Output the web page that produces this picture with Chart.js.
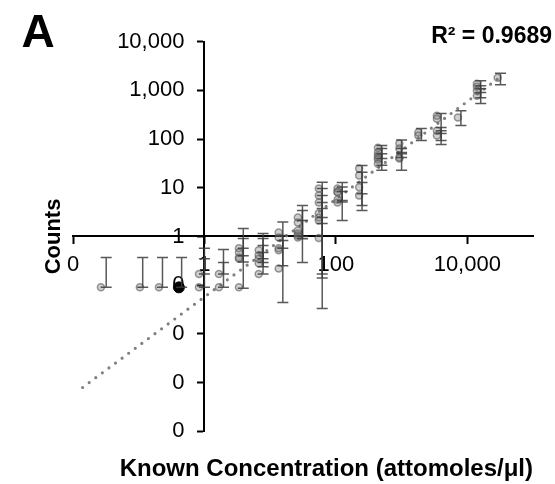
<!DOCTYPE html>
<html>
<head>
<meta charset="utf-8">
<script src="https://cdn.jsdelivr.net/npm/chart.js@4.4.0/dist/chart.umd.min.js"></script>
<style>
  html, body { margin: 0; padding: 0; background: #ffffff; }
  #wrap { width: 555px; height: 484px; position: relative; }
</style>
</head>
<body>
<div id="wrap"><canvas id="chart"></canvas></div>
<script>
// ---------------- DATA ----------------
// concentration at which each group's error bars sit (attomoles/µl)
const barConc = [0.032, 0.115, 0.23, 0.45, 1.0, 1.95, 3.9, 7.8, 15.6, 31, 62, 125, 250, 500, 1000, 2000, 4000, 8000, 16000, 32000];
// concentration at which each group's replicate markers sit
const pointConc = [0.0266, 0.104, 0.203, 0.409, 0.825, 1.66, 3.35, 6.7, 13.5, 26.4, 55, 106, 226, 437, 925, 1800, 3450, 7200, 14000, 29000];
// replicate counts per group
const replicateCounts = [
  [0.09],
  [0.09],
  [0.09],
  [],
  [0.17, 0.09],
  [0.17, 0.09],
  [0.57, 0.47, 0.37, 0.35, 0.09],
  [0.52, 0.41, 0.35, 0.28, 0.17],
  [1.21, 0.95, 0.57, 0.52, 0.22],
  [2.45, 1.94, 1.33, 1.15, 1.05, 0.95],
  [9.7, 6.9, 5.0, 3.0, 2.45, 2.13, 0.93],
  [9.7, 8.4, 8.0, 5.7, 5.0],
  [24.8, 17.8, 10.3, 6.9],
  [66, 53, 46, 42, 38, 31],
  [81, 64, 42, 40],
  [136, 118],
  [303, 263, 149, 118],
  [276],
  [1375, 1194, 988, 780],
  [1827]
];
// error bars per group: [low, high]
const errorBars = [
  [[0.09, 0.37]],
  [[0.09, 0.37]],
  [[0.09, 0.37]],
  [[0.09, 0.37]],
  [[0.09, 0.57], [0.17, 0.35]],
  [[0.09, 0.54], [0.17, 0.29]],
  [[0.086, 1.46], [0.3, 0.91], [0.4, 0.57]],
  [[0.17, 1.15], [0.24, 0.91], [0.29, 0.65], [0.35, 0.47]],
  [[0.044, 1.97], [0.25, 1.05], [0.57, 0.83]],
  [[0.29, 4.3], [0.9, 3.4], [1.0, 2.13]],
  [[0.033, 13], [0.14, 9.7], [0.17, 6.9], [1.85, 5.0], [2.45, 3.75]],
  [[2.13, 12.9], [5.1, 10.4], [5.5, 8.4]],
  [[3.4, 28.6], [4.3, 20.8], [7.5, 12.9]],
  [[23, 74], [29, 64], [40, 50]],
  [[23, 96], [42, 64], [50, 53]],
  [[93, 164]],
  [[77, 334], [93, 172], [130, 149]],
  [[189, 384]],
  [[535, 1585], [710, 1251], [900, 1086]],
  [[1312, 2239]]
];
// highlighted (solid black) marker
const highlightX = [0.409];
const highlightY = [0.09];
// power trend line end points
const trendX = [0.014, 30000];
const trendY = [0.00079, 1782];

// ticks
const xTickValues = [0.01, 1, 100, 10000];
const xTickLabels = ['0', '1', '100', '10,000'];
const yTickValues = [0.0001, 0.001, 0.01, 0.1, 1, 10, 100, 1000, 10000];
const yTickLabels = ['0', '0', '0', '0', '1', '10', '100', '1,000', '10,000'];

// texts
const panelLabel = 'A';
const r2Text = 'R² = 0.9689';
const xTitle = 'Known Concentration (attomoles/μl)';
const yTitle = 'Counts';

// ---------------- CHART ----------------
const FONT = "'Liberation Sans', Arial, Helvetica, sans-serif";
const Y_LABEL_GAP = 20; // gap between y axis line and right edge of its tick labels

const pointData = [];
replicateCounts.forEach((vals, i) => vals.forEach(v => pointData.push({ x: pointConc[i], y: v })));
const highlightData = highlightX.map((x, i) => ({ x, y: highlightY[i] }));
const trendData = trendX.map((x, i) => ({ x, y: trendY[i] }));

const errorBarPlugin = {
  id: 'errorBarPlugin',
  afterDatasetsDraw(chart) {
    const { ctx, scales: { x, y } } = chart;
    const cap = 5.5;
    ctx.save();
    ctx.strokeStyle = 'rgba(60,60,60,0.85)';
    ctx.lineWidth = 1.5;
    barConc.forEach((c, i) => {
      const px = x.getPixelForValue(c);
      errorBars[i].forEach(([lo, hi]) => {
        const yl = y.getPixelForValue(lo);
        const yh = y.getPixelForValue(hi);
        ctx.beginPath();
        ctx.moveTo(px, yl); ctx.lineTo(px, yh);
        ctx.moveTo(px - cap, yl); ctx.lineTo(px + cap, yl);
        ctx.moveTo(px - cap, yh); ctx.lineTo(px + cap, yh);
        ctx.stroke();
      });
    });
    ctx.restore();
  }
};

// Chart.js ignores tick padding for value-positioned y axes; move the labels left
const yLabelShiftPlugin = {
  id: 'yLabelShiftPlugin',
  beforeDraw(chart) {
    const s = chart.scales.y;
    const items = s.getLabelItems(chart.chartArea);
    items.forEach(it => {
      if (!it._shifted) {
        it.options.translation[0] -= Y_LABEL_GAP;
        it._shifted = true;
      }
    });
  }
};

const textPlugin = {
  id: 'textPlugin',
  afterDraw(chart) {
    const { ctx } = chart;
    ctx.save();
    ctx.fillStyle = '#000';
    ctx.textBaseline = 'alphabetic';
    ctx.font = "bold 46px " + FONT;
    ctx.textAlign = 'left';
    ctx.fillText(panelLabel, 21.5, 46.5);
    ctx.font = "bold 23px " + FONT;
    ctx.textAlign = 'right';
    ctx.fillText(r2Text, 552, 42.5);
    ctx.restore();
  }
};

Chart.defaults.color = '#000';
Chart.defaults.font.family = FONT;

new Chart(document.getElementById('chart'), {
  type: 'scatter',
  data: {
    datasets: [
      {
        label: 'highlight',
        data: highlightData,
        pointRadius: 5.5,
        pointBackgroundColor: '#000',
        pointBorderColor: '#000',
        pointBorderWidth: 1
      },
      {
        label: 'replicates',
        data: pointData,
        pointRadius: 3.5,
        pointBackgroundColor: 'rgba(120,120,120,0.35)',
        pointBorderColor: 'rgba(90,90,90,0.6)',
        pointBorderWidth: 1.5
      },
      {
        label: 'trend',
        data: trendData,
        showLine: true,
        pointRadius: 0,
        borderColor: '#808080',
        borderWidth: 3.2,
        borderDash: [0, 8.2],
        borderCapStyle: 'round',
        fill: false
      }
    ]
  },
  options: {
    responsive: true,
    maintainAspectRatio: false,
    animation: false,
    layout: { padding: { top: 41.7, right: 22, bottom: 0, left: 30 } },
    plugins: { legend: { display: false }, tooltip: { enabled: false } },
    scales: {
      x: {
        type: 'logarithmic',
        position: { y: 1 },
        min: 0.01,
        max: 100000,
        afterBuildTicks: (s) => { s.ticks = xTickValues.map(v => ({ value: v })); },
        ticks: {
          callback: (v, i) => xTickLabels[i],
          font: { family: FONT, size: 22 },
          color: '#000',
          padding: 8,
          autoSkip: false,
          maxRotation: 0
        },
        grid: { display: true, drawOnChartArea: false, drawTicks: true, tickLength: 7, tickWidth: 2, tickColor: '#000' },
        border: { display: true, color: '#000', width: 2 }
      },
      y: {
        type: 'logarithmic',
        position: { x: 1 },
        min: 0.0001,
        max: 10000,
        afterBuildTicks: (s) => { s.ticks = yTickValues.map(v => ({ value: v })); },
        ticks: {
          callback: (v, i) => yTickLabels[i],
          font: { family: FONT, size: 22 },
          color: '#000',
          padding: 14,
          autoSkip: false
        },
        grid: { display: true, drawOnChartArea: false, drawTicks: true, tickLength: 6, tickWidth: 2, tickColor: '#000' },
        border: { display: true, color: '#000', width: 2 }
      },
      x2: {
        type: 'linear',
        axis: 'x',
        position: 'bottom',
        display: true,
        ticks: { display: false },
        grid: { display: false, drawTicks: false },
        border: { display: false },
        title: {
          display: true,
          text: xTitle,
          align: 'end',
          color: '#000',
          font: { family: FONT, size: 24, weight: 'bold', lineHeight: 1.2 },
          padding: { top: 24, bottom: 0 }
        }
      },
      y2: {
        type: 'linear',
        axis: 'y',
        position: 'left',
        display: true,
        ticks: { display: false },
        grid: { display: false, drawTicks: false },
        border: { display: false },
        title: {
          display: true,
          text: yTitle,
          color: '#000',
          font: { family: FONT, size: 22, weight: 'bold', lineHeight: 1.2 },
          padding: { top: 10.8, bottom: 5.8 }
        }
      }
    }
  },
  plugins: [errorBarPlugin, yLabelShiftPlugin, textPlugin]
});
</script>
</body>
</html>
